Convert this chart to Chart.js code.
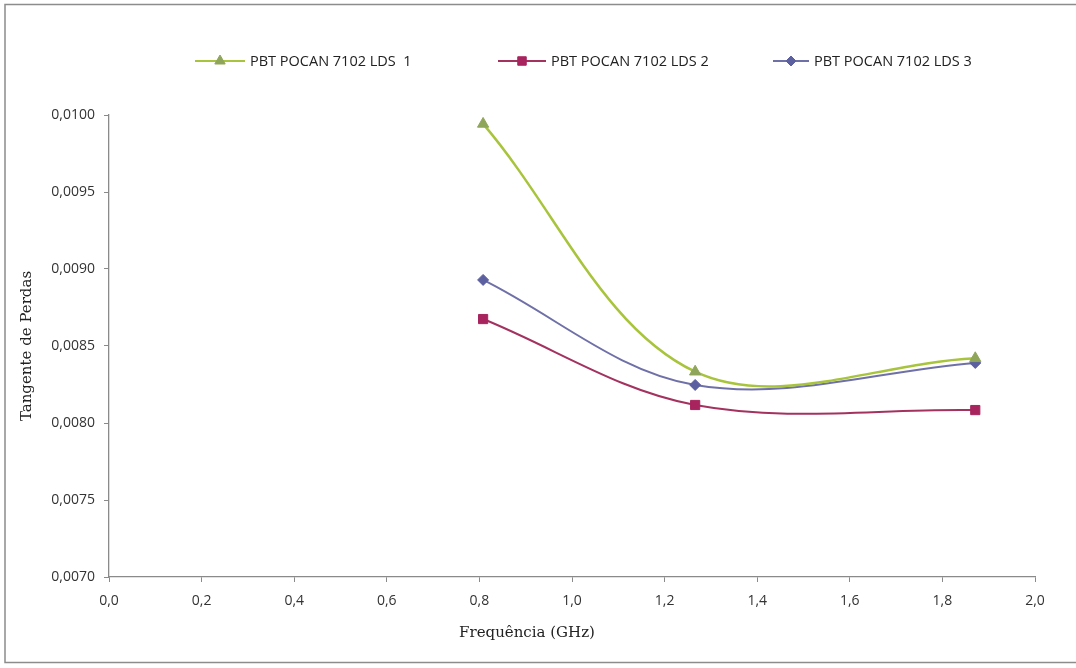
<!DOCTYPE html>
<html>
<head>
<meta charset="utf-8">
<script src="https://cdn.jsdelivr.net/npm/chart.js@4/dist/chart.umd.min.js"></script>
<style>
  html, body { margin: 0; padding: 0; background: #fff; }
  #wrap { width: 1076px; height: 668px; position: relative; }
</style>
</head>
<body>
<div id="wrap"><canvas id="c" width="1076" height="668"></canvas></div>
<script>
// Frequency (GHz) of each measurement
const freqGHz = [0.808, 1.266, 1.871];

// Loss tangent per sample
const lds1 = [0.009942, 0.008333, 0.008420];
const lds2 = [0.008675, 0.008117, 0.008084];
const lds3 = [0.008929, 0.008247, 0.008390];

const seriesNames = ['PBT POCAN 7102 LDS  1', 'PBT POCAN 7102 LDS 2', 'PBT POCAN 7102 LDS 3'];

const xTitle = 'Frequência (GHz)';
const yTitle = 'Tangente de Perdas';

const toPoints = (ys) => ys.map((y, i) => ({ x: freqGHz[i], y }));
const comma = (v, d) => v.toFixed(d).replace('.', ',');

const tickFont = { family: 'Open Sans', size: 14 };
const titleFont = { family: 'DejaVu Serif', size: 15 };

// white background with a thin grey frame around the whole chart
const framePlugin = {
  id: 'frame',
  beforeDraw(chart) {
    const ctx = chart.ctx;
    ctx.save();
    ctx.fillStyle = '#fff';
    ctx.fillRect(0, 0, chart.width, chart.height);
    ctx.strokeStyle = '#8c8c8c';
    ctx.lineWidth = 1.5;
    ctx.strokeRect(5, 4.5, chart.width + 10, 658);
    ctx.restore();
  }
};

// horizontal axis title, sitting a little left of the axis centre
const xTitlePlugin = {
  id: 'xTitle',
  afterDraw(chart) {
    const ctx = chart.ctx;
    ctx.save();
    ctx.fillStyle = '#222';
    ctx.font = titleFont.size + 'px "' + titleFont.family + '"';
    ctx.textAlign = 'center';
    ctx.textBaseline = 'middle';
    ctx.fillText(xTitle, 527, 633);
    ctx.restore();
  }
};

// legend row across the top: line sample with marker, then the series name
const legendPlugin = {
  id: 'topLegend',
  afterDraw(chart) {
    const ctx = chart.ctx;
    const y = 61;
    const starts = [195, 498, 773];
    const lens = [50, 48, 36];
    ctx.save();
    chart.data.datasets.forEach((ds, i) => {
      const x0 = starts[i];
      const len = lens[i];
      ctx.strokeStyle = ds.borderColor;
      ctx.lineWidth = 2;
      ctx.beginPath();
      ctx.moveTo(x0, y);
      ctx.lineTo(x0 + len, y);
      ctx.stroke();
      ctx.fillStyle = ds.pointBackgroundColor;
      ctx.strokeStyle = ds.pointBorderColor;
      ctx.lineWidth = 1;
      Chart.helpers.drawPoint(ctx, {
        pointStyle: ds.pointStyle,
        radius: ds.pointRadius - 0.5,
        rotation: 0,
        borderWidth: 1
      }, x0 + len / 2, y);
      ctx.fillStyle = '#222';
      ctx.font = '14.5px "Open Sans"';
      ctx.textBaseline = 'middle';
      ctx.textAlign = 'left';
      ctx.fillText(ds.label, x0 + len + 5, y + 1);
    });
    ctx.restore();
  }
};

new Chart(document.getElementById('c'), {
  type: 'scatter',
  data: {
    datasets: [
      {
        label: seriesNames[0],
        data: toPoints(lds1),
        showLine: true,
        borderColor: '#a8c43c',
        borderWidth: 2.5,
        tension: 0.35,
        pointStyle: 'triangle',
        pointRadius: 6.5,
        pointBackgroundColor: '#8fa65a',
        pointBorderColor: '#8fa65a',
        pointBorderWidth: 1
      },
      {
        label: seriesNames[1],
        data: toPoints(lds2),
        showLine: true,
        borderColor: '#a3325f',
        borderWidth: 2,
        tension: 0.35,
        pointStyle: 'rect',
        pointRadius: 6.5,
        pointBackgroundColor: '#a8245e',
        pointBorderColor: '#a8245e',
        pointBorderWidth: 1
      },
      {
        label: seriesNames[2],
        data: toPoints(lds3),
        showLine: true,
        borderColor: '#6f70a8',
        borderWidth: 2,
        tension: 0.35,
        pointStyle: 'rectRot',
        pointRadius: 5.5,
        pointBackgroundColor: '#5c5fa0',
        pointBorderColor: '#5c5fa0',
        pointBorderWidth: 1
      }
    ]
  },
  options: {
    responsive: false,
    animation: false,
    events: [],
    layout: { padding: { left: 14, right: 41, top: 115, bottom: 22 } },
    plugins: {
      legend: { display: false },
      tooltip: { enabled: false }
    },
    scales: {
      x: {
        type: 'linear',
        min: 0,
        max: 2,
        afterFit(scale) { scale.height = 69; },
        afterBuildTicks(scale) {
          const t = [];
          for (let i = 0; i <= 10; i++) t.push({ value: i * 0.2 });
          scale.ticks = t;
        },
        ticks: {
          color: '#333',
          font: tickFont,
          padding: 11,
          maxRotation: 0,
          callback: (v) => comma(v, 1)
        },
        grid: {
          drawOnChartArea: false,
          drawTicks: true,
          tickLength: 5,
          color: '#8a8a8a'
        },
        border: { color: '#8a8a8a', width: 1.3 },
        title: { display: false }
      },
      y: {
        type: 'linear',
        min: 0.007,
        max: 0.010,
        afterFit(scale) { scale.width = 95; },
        afterBuildTicks(scale) {
          const t = [];
          for (let i = 0; i <= 6; i++) t.push({ value: 0.007 + i * 0.0005 });
          scale.ticks = t;
        },
        ticks: {
          color: '#333',
          font: tickFont,
          padding: 9,
          callback: (v) => comma(v, 4)
        },
        grid: {
          drawOnChartArea: false,
          drawTicks: true,
          tickLength: 5,
          color: '#8a8a8a'
        },
        border: { color: '#8a8a8a', width: 1.3 },
        title: {
          display: true,
          text: yTitle,
          color: '#222',
          font: titleFont,
          padding: { top: 4, bottom: 4 }
        }
      }
    }
  },
  plugins: [framePlugin, xTitlePlugin, legendPlugin]
});
</script>
</body>
</html>
